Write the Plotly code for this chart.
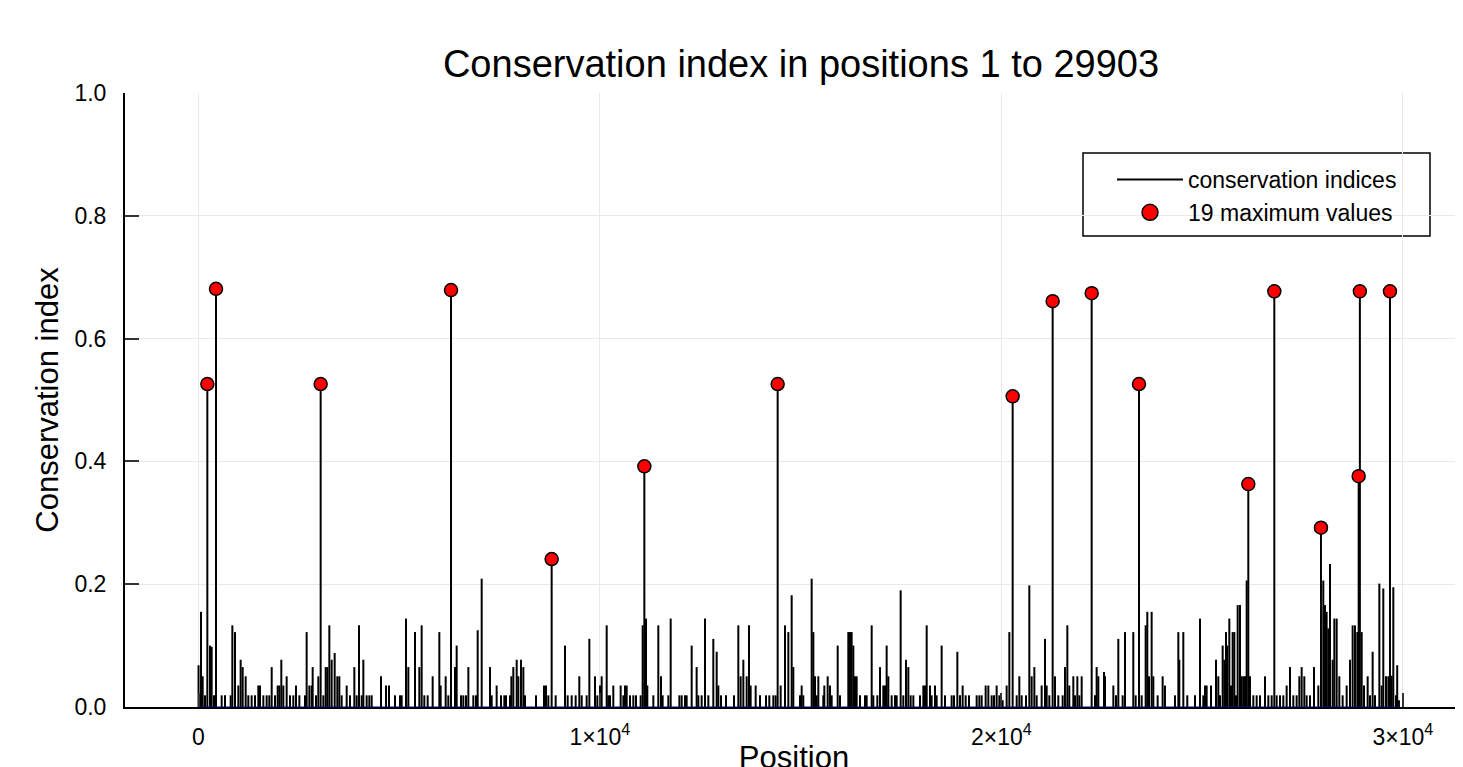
import plotly.graph_objects as go

# ---- data ----
spike_pos = [
    1, 62, 104, 162, 286, 328, 386, 577, 660, 801, 843, 909, 992, 1050, 1100, 1175, 1241, 1324, 1407, 1490,
    1532, 1615, 1698, 1764, 1823, 1906, 1972, 2014, 2063, 2113, 2196, 2279, 2362, 2429, 2512, 2653, 2694, 2761,
    2819, 2844, 2927, 2985, 3110, 3168, 3209, 3259, 3317, 3392, 3458, 3508, 3566, 3691, 3774, 3882, 3940, 3998,
    4065, 4106, 4189, 4255, 4314, 4546, 4671, 4745,
    4895, 5019, 5061, 5169, 5227, 5393, 5501, 5559, 5625, 5709, 5833, 5999, 6032, 6157, 6223, 6389, 6431, 6539,
    6597, 6663, 6722, 6846, 6913, 6954, 7054, 7261, 7303, 7427, 7535, 7618, 7660, 7759, 7793, 7842, 7926, 7967,
    8033, 8092, 8133, 8407, 8606, 8656, 8714, 8897, 9130, 9196, 9296, 9395, 9486, 9545, 9669, 9736,
    9877, 9935, 10001, 10043, 10168, 10209, 10250, 10333, 10516, 10583, 10624, 10666, 10749, 10832, 10898, 11014,
    11064, 11147, 11180, 11330, 11454, 11521, 11562, 11703, 11762, 11978, 12036, 12119, 12160, 12285, 12409, 12451,
    12534, 12617, 12700, 12824, 12908, 12949, 13015, 13140, 13339, 13447, 13505, 13572, 13655, 13713, 13754, 13879,
    13987, 14136, 14219, 14319, 14377, 14502, 14610, 14693,
    14776, 14817, 14983, 15025, 15066, 15274, 15316, 15357, 15398, 15440, 15564, 15589, 15673, 15731, 15772, 15922,
    15980, 16187, 16229, 16270, 16312, 16353, 16395, 16478, 16603, 16644, 16769, 16810, 16910, 16976, 17059, 17101,
    17142, 17184, 17267, 17350, 17392, 17491, 17557, 17624, 17682, 17740, 17807, 17973, 18056, 18097, 18139, 18222,
    18263, 18346, 18388, 18512, 18595, 18761, 18820, 18903, 18969, 19035, 19110, 19193, 19384, 19451, 19509, 19608,
    19675,
    19758, 19816, 19882, 19949, 20032, 20131, 20198, 20381, 20447, 20505, 20613, 20696, 20754, 20821, 20879, 21003,
    21086, 21128, 21194, 21335, 21418, 21526, 21584, 21643, 21692, 21792, 21834, 21892, 21942, 22000, 22332, 22373,
    22415, 22556, 22581, 22789, 22855, 22913, 23021, 23079, 23286, 23345, 23494, 23594, 23635, 23677, 23743, 23785,
    23893, 24017, 24075, 24324, 24408, 24432, 24532, 24631,
    24823, 24947, 25030, 25072, 25113, 25221, 25346, 25404, 25446, 25512, 25554, 25595, 25628, 25678, 25720, 25761,
    25803, 25844, 25886, 25944, 25985, 26027, 26068, 26110, 26193, 26276, 26359, 26442, 26567, 26650, 26733, 26857,
    26940, 27023, 27106, 27189, 27272, 27355, 27422, 27480, 27546, 27604, 27687, 27787, 27895, 28019, 28061, 28102,
    28144, 28186, 28252, 28294, 28352, 28418, 28501, 28601, 28684, 28750, 28808, 28866, 28975, 29033, 29124, 29182,
    29248, 29307, 29415, 29473, 29514, 29581, 29639, 29722, 29763, 29830, 29860, 29903,
]
spike_val = [
    .068, .155, .05, .019, .1, .098, .019, .019, .019, .019, .133, .122, .035, .077, .065, .05, .019, .019, .019, .035,
    .035, .019, .019, .019, .065, .019, .035, .035, .077, .035, .05, .019, .019, .035, .019, .019, .122, .035,
    .035, .065, .019, .05, .019, .065, .065, .133, .077, .088, .05, .05, .019, .035, .019, .065, .019, .133,
    .019, .077, .019, .019, .019, .05, .035, .035,
    .019, .019, .019, .144, .065, .122, .065, .133, .019, .019, .05, .122, .035, .05, .019, .065, .1, .019,
    .019, .019, .065, .019, .019, .125, .209, .065, .019, .035, .019, .019, .019, .019, .05, .065, .077, .05,
    .077, .065, .019, .019, .035, .035, .019, .019, .1, .019, .019, .019, .05, .019, .019, .111,
    .05, .019, .035, .05, .133, .019, .019, .035, .035, .019, .035, .035, .019, .019, .019, .019,
    .133, .144, .035, .019, .133, .05, .019, .019, .144, .019, .019, .019, .019, .1, .065, .019,
    .019, .144, .019, .111, .09, .035, .019, .019, .019, .133, .05, .077, .05, .133, .035, .035,
    .019, .019, .019, .019, .019, .035, .133, .122,
    .182, .065, .019, .035, .019, .209, .122, .05, .019, .05, .019, .035, .05, .035, .019, .1,
    .019, .122, .122, .122, .1, .05, .05, .019, .019, .019, .133, .019, .019, .065, .035, .035,
    .1, .05, .019, .019, .019, .19, .019, .077, .065, .019, .019, .019, .035, .035, .133, .035,
    .019, .035, .019, .1, .019, .019, .019, .09, .019, .035, .019, .019, .019, .019, .019, .035,
    .035,
    .019, .019, .035, .019, .011, .035, .122, .019, .05, .019, .019, .198, .05, .065, .019, .035,
    .111, .035, .019, .05, .019, .019, .065, .133, .035, .05, .019, .05, .019, .05, .019, .065,
    .05, .057, .05, .035, .019, .111, .019, .122, .122, .019, .019, .133, .155, .05, .155, .05,
    .019, .05, .035, .019, .122, .077, .122, .019,
    .019, .144, .019, .035, .035, .035, .077, .05, .019, .1, .077, .122, .1, .144, .035, .122,
    .122, .019, .166, .166, .05, .05, .05, .206, .05, .019, .019, .019, .05, .019, .019, .019,
    .019, .019, .035, .065, .019, .019, .05, .065, .05, .019, .019, .065, .035, .206, .166, .155,
    .128, .233, .077, .144, .144, .05, .019, .035, .077, .133, .133, .122, .122, .035, .05, .019,
    .09, .019, .201, .035, .193, .05, .05, .051, .195, .019, .068, .011,
]
max_pos = [220, 436, 3043, 6290, 8797, 11106, 14427, 20281, 21277, 22249, 23428,
           26151, 26799, 27961, 28900, 28930, 29680]
max_val = [0.526, 0.681, 0.526, 0.679, 0.241, 0.392, 0.526, 0.506, 0.661, 0.674, 0.526,
           0.363, 0.677, 0.292, 0.376, 0.677, 0.677]

x_ticks = [0, 10000, 20000, 30000]
x_ticktext = ["0", "1×10<sup>4</sup>", "2×10<sup>4</sup>", "3×10<sup>4</sup>"]
y_ticks = [0.0, 0.2, 0.4, 0.6, 0.8, 1.0]

# ---- build stems (vertical segments) from the data ----
all_pos = spike_pos + max_pos
all_val = spike_val + max_val
order = sorted(range(len(all_pos)), key=lambda i: all_pos[i])
lx, ly = [], []
for i in order:
    lx += [all_pos[i], all_pos[i], None]
    ly += [0, all_val[i], None]

FONT = "Liberation Sans, Arial, Helvetica, sans-serif"

fig = go.Figure()
fig.add_trace(go.Scatter(x=lx, y=ly, mode="lines", name="conservation indices",
                         line=dict(color="black", width=2), connectgaps=False))
fig.add_trace(go.Scatter(x=[1, 29903], y=[0, 0], mode="lines", showlegend=False,
                         line=dict(color="#0000dd", width=1), hoverinfo="skip"))
fig.add_trace(go.Scatter(x=max_pos, y=max_val, mode="markers", name="19 maximum values",
                         showlegend=False,
                         marker=dict(color="red", size=13, line=dict(color="black", width=1.5))))
# legend entry for the maxima (bigger symbol, as in the reference legend)
fig.add_trace(go.Scatter(x=[None], y=[None], mode="markers", name="19 maximum values",
                         marker=dict(color="red", size=16, line=dict(color="black", width=1.5))))

OFF = 8  # page body margin of the html page
W, H = 1463, 767
PL, PR, PT, PB = 125 - OFF, 1463 - OFF, 93 - OFF, 707 - OFF  # plot area in figure px


def px_x(p):
    return (p - OFF - PL) / (PR - PL)


def px_y(p):
    return (PB - (p - OFF)) / (PB - PT)


fig.add_shape(type="rect", xref="paper", yref="paper",
              x0=px_x(1083), x1=px_x(1430), y0=px_y(236), y1=px_y(153),
              line=dict(color="black", width=1.5), fillcolor="white", layer="below")

fig.update_layout(
    width=W, height=H,
    margin=dict(l=PL, r=W - PR, t=PT, b=H - PB, autoexpand=False),
    paper_bgcolor="white", plot_bgcolor="white",
    font=dict(family=FONT, color="black"),
    title=dict(text="Conservation index in positions 1 to 29903",
               font=dict(size=38, family=FONT, color="black"),
               x=px_x(801), xref="paper", xanchor="center",
               y=1 - (64 - OFF) / H, yref="container", yanchor="middle"),
    showlegend=True,
    legend=dict(x=px_x(1112), y=px_y(158), xanchor="left", yanchor="top",
                bgcolor="rgba(0,0,0,0)", borderwidth=0,
                font=dict(size=23, family=FONT, color="black"),
                itemwidth=66, tracegroupgap=0),
    xaxis=dict(range=[-1831, 31499], tickvals=x_ticks, ticktext=x_ticktext,
               showgrid=True, gridcolor="#e9e9e9", gridwidth=1,
               zeroline=False, showline=True, linecolor="black", linewidth=2,
               ticks="inside", ticklen=14, tickwidth=2, tickcolor="#333333",
               tickfont=dict(size=23, family=FONT), ticklabelstandoff=8,
               title=dict(text="Position", font=dict(size=31, family=FONT), standoff=32),
               automargin=False),
    yaxis=dict(range=[0, 1.0], tickvals=y_ticks, tickformat=".1f",
               showgrid=True, gridcolor="#e9e9e9", gridwidth=1,
               zeroline=False, showline=True, linecolor="black", linewidth=2,
               ticks="inside", ticklen=14, tickwidth=2, tickcolor="#333333",
               tickfont=dict(size=23, family=FONT), ticklabelstandoff=12,
               title=dict(text="Conservation index", font=dict(size=31, family=FONT), standoff=7),
               automargin=False),
)

fig.write_html("out.html")
